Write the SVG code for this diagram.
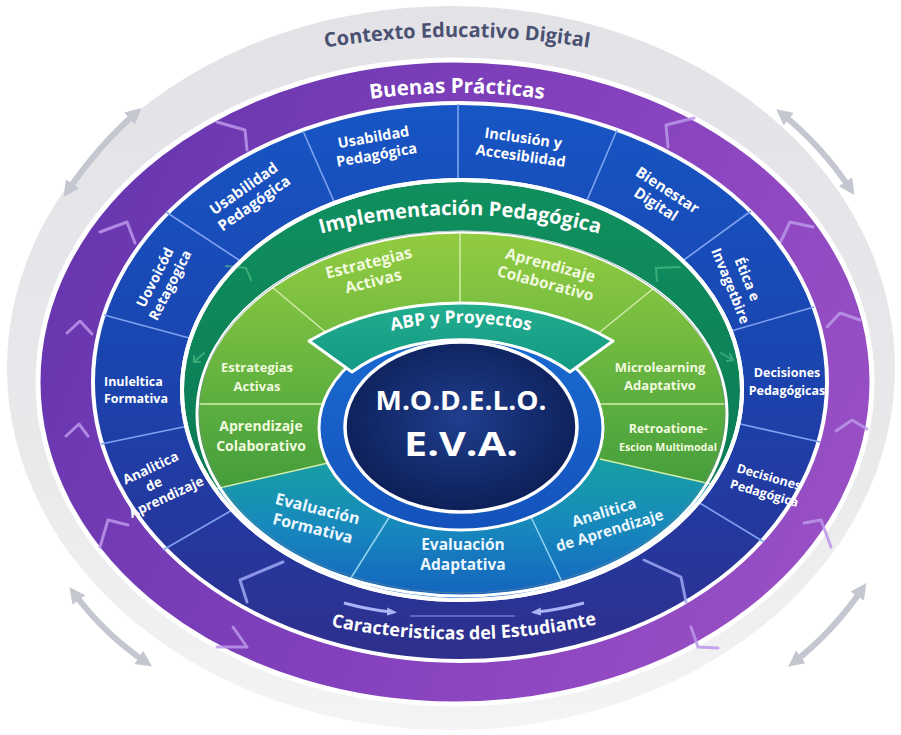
<svg xmlns="http://www.w3.org/2000/svg" width="901" height="735" viewBox="0 0 901 735">
  <defs>
    <style>
      .lbl { font-family: "Open Sans", "Noto Sans", "DejaVu Sans", sans-serif; font-weight: 700; text-anchor: middle; }
      .w { fill: #ffffff; }
      .gt { fill: #f1fadf; }
      .st { fill: #ecf7ff; }
      .div-blue { stroke: #7fa2f0; stroke-width: 1.6; fill: none; }
      .div-green { stroke: #d2ecab; stroke-width: 1.5; fill: none; }
      .div-sea { stroke: #93d3f0; stroke-width: 1.5; fill: none; }
      .chev { fill: none; stroke: #bb96ea; stroke-width: 3; stroke-linecap: round; stroke-linejoin: round; opacity: 0.85; }
      .chev-b { fill: none; stroke: #9ea6f2; stroke-width: 3; stroke-linecap: round; stroke-linejoin: round; opacity: 0.85; }
      .faint { fill: none; stroke: #58c48e; stroke-width: 2; stroke-linecap: round; opacity: 0.6; }
      .garrow { fill: none; stroke: #c4c7cf; stroke-width: 6; marker-start: url(#mGray); marker-end: url(#mGray); }
    </style>
    <linearGradient id="gGray" x1="0" y1="0" x2="0" y2="1">
      <stop offset="0" stop-color="#e3e3e7"/>
      <stop offset="0.6" stop-color="#e9e9ec"/>
      <stop offset="1" stop-color="#f4f4f6"/>
    </linearGradient>
    <linearGradient id="gPurple" gradientUnits="userSpaceOnUse" x1="40" y1="250" x2="870" y2="620">
      <stop offset="0" stop-color="#6636ae"/>
      <stop offset="0.5" stop-color="#8541bd"/>
      <stop offset="1" stop-color="#9c52c6"/>
    </linearGradient>
    <linearGradient id="gBlue" gradientUnits="userSpaceOnUse" x1="0" y1="103" x2="0" y2="662">
      <stop offset="0" stop-color="#1656c4"/>
      <stop offset="0.45" stop-color="#1a45b0"/>
      <stop offset="0.75" stop-color="#24389f"/>
      <stop offset="1" stop-color="#2f2f8c"/>
    </linearGradient>
    <linearGradient id="gDark" gradientUnits="userSpaceOnUse" x1="0" y1="180" x2="0" y2="480">
      <stop offset="0" stop-color="#10905e"/>
      <stop offset="1" stop-color="#0b7b55"/>
    </linearGradient>
    <linearGradient id="gLight" gradientUnits="userSpaceOnUse" x1="0" y1="232" x2="0" y2="490">
      <stop offset="0" stop-color="#93cc40"/>
      <stop offset="0.3" stop-color="#7bbf40"/>
      <stop offset="0.7" stop-color="#5aad3f"/>
      <stop offset="1" stop-color="#449c3a"/>
    </linearGradient>
    <linearGradient id="gSea" gradientUnits="userSpaceOnUse" x1="0" y1="455" x2="0" y2="600">
      <stop offset="0" stop-color="#17a1a0"/>
      <stop offset="0.5" stop-color="#1788bd"/>
      <stop offset="1" stop-color="#1462bf"/>
    </linearGradient>
    <linearGradient id="gBand" gradientUnits="userSpaceOnUse" x1="0" y1="303" x2="0" y2="372">
      <stop offset="0" stop-color="#22ad8e"/>
      <stop offset="1" stop-color="#139984"/>
    </linearGradient>
    <linearGradient id="gCoreRing" gradientUnits="userSpaceOnUse" x1="0" y1="326" x2="0" y2="530">
      <stop offset="0" stop-color="#1a6cd2"/>
      <stop offset="1" stop-color="#1452bc"/>
    </linearGradient>
    <radialGradient id="gNavy" cx="0.5" cy="0.45" r="0.6">
      <stop offset="0" stop-color="#1f3e8e"/>
      <stop offset="1" stop-color="#0b1c52"/>
    </radialGradient>
    <clipPath id="cpInner">
      <ellipse cx="462" cy="390" rx="280" ry="210"/>
    </clipPath>
    <marker id="mGray" markerUnits="userSpaceOnUse" markerWidth="16" markerHeight="16" refX="10" refY="8" orient="auto-start-reverse">
      <path d="M0,0 L16,8 L0,16 Z" fill="#c4c7cf"/>
    </marker>
    <marker id="mLav" markerUnits="userSpaceOnUse" markerWidth="10" markerHeight="10" refX="5" refY="5" orient="auto">
      <path d="M0,1 L10,5 L0,9 Z" fill="#aab4f6"/>
    </marker>
    <path id="pContext" d="M300,52 Q457,22 614,52"/>
    <path id="pBuenas" d="M352,102 Q457,84 562,102"/>
    <path id="pImpl" d="M316,235 Q460,195 604,235"/>
    <path id="pCarac" d="M330,626 Q463,654 598,624"/>
    <path id="pAbp" d="M378,334 Q461,312 544,334"/>
  </defs>

  <rect width="901" height="735" fill="#ffffff"/>

  <!-- outer context band -->
  <g id="contexto-educativo-digital">
    <ellipse cx="451" cy="368" rx="444" ry="362" fill="url(#gGray)"/>
    <text class="lbl" font-size="20" fill="#4b5171">
      <textPath href="#pContext" startOffset="50%">Contexto Educativo Digital</textPath>
    </text>
  </g>

  <!-- good practices ring -->
  <g id="buenas-practicas">
    <ellipse cx="455" cy="382" rx="417" ry="322" fill="url(#gPurple)" stroke="#ffffff" stroke-width="5"/>
    <text class="lbl w" font-size="20.5">
      <textPath href="#pBuenas" startOffset="50%">Buenas Prácticas</textPath>
    </text>
    <polyline class="chev" points="217,122 245,130 247,150"/>
    <polyline class="chev" points="100,232 127,222 135,243"/>
    <polyline class="chev" points="67,333 80,321 92,334"/>
    <polyline class="chev" points="66,436 79,424 88,436"/>
    <polyline class="chev" points="100,547 108,520 128,525"/>
    <polyline class="chev" points="233,627 247,647 217,647"/>
    <polyline class="chev" points="691,627 698,647 718,648"/>
    <polyline class="chev" points="804,523 821,520 831,547"/>
    <polyline class="chev" points="836,431 852,420 867,429"/>
    <polyline class="chev" points="827,327 840,313 860,320"/>
    <polyline class="chev" points="780,243 790,222 813,227"/>
    <polyline class="chev" points="668,147 666,125 694,118"/>
  </g>

  <!-- practice ring with its segments -->
  <g id="practice-ring">
    <ellipse cx="460" cy="382" rx="367" ry="279" fill="url(#gBlue)" stroke="#ffffff" stroke-width="4"/>
    <line class="div-blue" x1="458" y1="104" x2="458" y2="185"/>
    <line class="div-blue" x1="303" y1="131" x2="336" y2="206"/>
    <line class="div-blue" x1="617" y1="130" x2="585" y2="205"/>
    <line class="div-blue" x1="166" y1="212" x2="242" y2="262"/>
    <line class="div-blue" x1="751" y1="211" x2="681" y2="262"/>
    <line class="div-blue" x1="104" y1="315" x2="193" y2="339"/>
    <line class="div-blue" x1="814" y1="307" x2="731" y2="331"/>
    <line class="div-blue" x1="101" y1="444" x2="188" y2="426"/>
    <line class="div-blue" x1="820" y1="442" x2="736" y2="423"/>
    <line class="div-blue" x1="163" y1="550" x2="234" y2="509"/>
    <line class="div-blue" x1="764" y1="542" x2="698" y2="502"/>
    <polyline class="chev-b" points="283,562 240,580 247,602"/>
    <polyline class="chev-b" points="644,560 681,577 686,602"/>
    <path d="M344,603 Q370,610 392,612" fill="none" stroke="#aab4f6" stroke-width="3" marker-end="url(#mLav)"/>
    <path d="M584,603 Q558,610 536,612" fill="none" stroke="#aab4f6" stroke-width="3" marker-end="url(#mLav)"/>
    <line x1="410" y1="616" x2="515" y2="616" stroke="#8088da" stroke-width="2" opacity="0.6"/>
  </g>

  <g id="seg-usabilidad-pedagogica-top" transform="translate(375,146) rotate(-10)">
    <text class="lbl w" font-size="14.5"><tspan x="0" y="-4">Usabildad</tspan><tspan x="0" y="14">Pedagógica</tspan></text>
  </g>
  <g id="seg-inclusion" transform="translate(522,147) rotate(8)">
    <text class="lbl w" font-size="14.5"><tspan x="0" y="-4">Inclusión y</tspan><tspan x="0" y="14">Accesiblidad</tspan></text>
  </g>
  <g id="seg-bienestar" transform="translate(663,197) rotate(33)">
    <text class="lbl w" font-size="15"><tspan x="0" y="-3">Bienestar</tspan><tspan x="-2" y="15">Digital</tspan></text>
  </g>
  <g id="seg-etica" transform="translate(740,282) rotate(68)">
    <text class="lbl w" font-size="14"><tspan x="0" y="-3">Ética e</tspan><tspan x="0" y="15">Invagetbire</tspan></text>
  </g>
  <g id="seg-decisiones-1">
    <text class="lbl w" font-size="12.5"><tspan x="787" y="377">Decisiones</tspan><tspan x="787" y="395">Pedagógicas</tspan></text>
  </g>
  <g id="seg-decisiones-2" transform="translate(767,484) rotate(16)">
    <text class="lbl w" font-size="12.5"><tspan x="0" y="-3">Decisiones</tspan><tspan x="0" y="14">Pedagógica</tspan></text>
  </g>
  <g id="seg-caracteristicas">
    <text class="lbl w" font-size="18">
      <textPath href="#pCarac" startOffset="50%">Caracteristicas del Estudiante</textPath>
    </text>
  </g>
  <g id="seg-analitica" transform="translate(158,484) rotate(-25)">
    <text class="lbl w" font-size="13.5"><tspan x="0" y="-13">Analitica</tspan><tspan x="-4" y="3">de</tspan><tspan x="2" y="20">Aprendizaje</tspan></text>
  </g>
  <g id="seg-formativa">
    <text class="lbl w" font-size="12.5" style="text-anchor:start"><tspan x="104" y="386">Inuleltica</tspan><tspan x="104" y="403">Formativa</tspan></text>
  </g>
  <g id="seg-retagogica" transform="translate(162,281) rotate(-63)">
    <text class="lbl w" font-size="14"><tspan x="0" y="-3">Uovoicód</tspan><tspan x="0" y="14">Retagogica</tspan></text>
  </g>
  <g id="seg-usabilidad-pedagogica-left" transform="translate(249,196) rotate(-35)">
    <text class="lbl w" font-size="15"><tspan x="0" y="-4">Usabilidad</tspan><tspan x="0" y="14">Pedagógica</tspan></text>
  </g>

  <!-- implementation ring and inner sectors -->
  <g id="implementacion-pedagogica">
    <ellipse cx="462" cy="390" rx="280" ry="210" fill="url(#gDark)" stroke="#ffffff" stroke-width="4"/>
    <ellipse cx="462" cy="414" rx="265" ry="182" fill="url(#gLight)"/>
    <polyline class="faint" points="226,266 246,268 251,280"/>
    <polyline class="faint" points="657,281 656,268 680,267"/>
    <path class="faint" d="M204,353 L194,362 M194,356 L194,362 L200,362"/>
    <path class="faint" d="M721,353 L733,360 M727,361 L733,360 L730,354"/>
    <line class="div-green" x1="460" y1="232" x2="460" y2="310"/>
    <line class="div-green" x1="272" y1="287" x2="335" y2="340"/>
    <line class="div-green" x1="654" y1="288" x2="595" y2="336"/>
    <line class="div-green" x1="198" y1="404" x2="325" y2="404"/>
    <line class="div-green" x1="600" y1="404" x2="726" y2="404"/>
    <polygon points="150,504 345,459 580,455 760,495 760,620 150,620" fill="url(#gSea)" clip-path="url(#cpInner)"/>
    <line class="div-green" x1="215" y1="489" x2="328" y2="463"/>
    <line class="div-green" x1="600" y1="459" x2="711" y2="484"/>
    <line class="div-sea" x1="390" y1="516" x2="349" y2="581"/>
    <line class="div-sea" x1="531" y1="517" x2="563" y2="584"/>
    <ellipse cx="462" cy="414" rx="265" ry="182" fill="none" stroke="#ffffff" stroke-width="3"/>
    <ellipse cx="462" cy="412" rx="263" ry="181" fill="none" stroke="#6f8790" stroke-width="0.8" opacity="0.7"/>
    <ellipse cx="462" cy="390" rx="280" ry="210" fill="none" stroke="#ffffff" stroke-width="4"/>
    <text class="lbl w" font-size="20">
      <textPath href="#pImpl" startOffset="50%">Implementación Pedagógica</textPath>
    </text>
  </g>

  <g id="sector-estrategias-top" transform="translate(371,272) rotate(-14)">
    <text class="lbl gt" font-size="16"><tspan x="0" y="-4">Estrategias</tspan><tspan x="0" y="15">Activas</tspan></text>
  </g>
  <g id="sector-aprendizaje-top" transform="translate(548,274) rotate(15)">
    <text class="lbl gt" font-size="15.5"><tspan x="0" y="-4">Aprendizaje</tspan><tspan x="0" y="15">Colaborativo</tspan></text>
  </g>
  <g id="sector-estrategias-left">
    <text class="lbl gt" font-size="13"><tspan x="257" y="372">Estrategias</tspan><tspan x="257" y="391">Activas</tspan></text>
  </g>
  <g id="sector-aprendizaje-left">
    <text class="lbl gt" font-size="14"><tspan x="261" y="431">Aprendizaje</tspan><tspan x="261" y="451">Colaborativo</tspan></text>
  </g>
  <g id="sector-microlearning">
    <text class="lbl gt" font-size="13"><tspan x="660" y="372">Microlearning</tspan><tspan x="660" y="390">Adaptativo</tspan></text>
  </g>
  <g id="sector-retroalimentacion">
    <text class="lbl gt" font-size="12.5" x="668" y="433">Retroatione-</text>
    <text class="lbl gt" font-size="11" x="668" y="451" textLength="98" lengthAdjust="spacingAndGlyphs">Escion Multimodal</text>
  </g>
  <g id="sector-evaluacion-formativa" transform="translate(315,519) rotate(14)">
    <text class="lbl st" font-size="16"><tspan x="0" y="-5">Evaluación</tspan><tspan x="0" y="15">Formativa</tspan></text>
  </g>
  <g id="sector-evaluacion-adaptativa">
    <text class="lbl st" font-size="15.5"><tspan x="463" y="550">Evaluación</tspan><tspan x="463" y="570">Adaptativa</tspan></text>
  </g>
  <g id="sector-analitica" transform="translate(607,522) rotate(-17)">
    <text class="lbl st" font-size="15"><tspan x="0" y="-5">Analitica</tspan><tspan x="0" y="14">de Aprendizaje</tspan></text>
  </g>

  <!-- core: ABP band and model title -->
  <g id="modelo-eva-ring">
    <ellipse cx="461" cy="428" rx="142" ry="102" fill="url(#gCoreRing)" stroke="#ffffff" stroke-width="3"/>
  </g>
  <g id="abp-proyectos">
    <path d="M309,341 A220,137 0 0 1 613,341 L570,372 A142,90 0 0 0 352,372 Z" fill="url(#gBand)" stroke="#ffffff" stroke-width="3" stroke-linejoin="round"/>
    <text class="lbl w" font-size="17.5">
      <textPath href="#pAbp" startOffset="50%">ABP y Proyectos</textPath>
    </text>
  </g>
  <g id="modelo-eva">
    <ellipse cx="461" cy="427" rx="116" ry="85" fill="url(#gNavy)" stroke="#ffffff" stroke-width="3.5"/>
    <text class="lbl w" font-size="26" x="461" y="410" textLength="171" lengthAdjust="spacingAndGlyphs">M.O.D.E.L.O.</text>
    <text class="lbl w" font-size="34" x="461" y="456" textLength="114" lengthAdjust="spacingAndGlyphs">E.V.A.</text>
  </g>

  <!-- cycle arrows around the context band -->
  <g id="connectors">
    <path class="garrow" d="M137,112 Q98,146 67,192"/>
    <path class="garrow" d="M781,113 Q822,146 851,190"/>
    <path class="garrow" d="M73,592 Q104,634 147,663"/>
    <path class="garrow" d="M863,588 Q833,632 793,663"/>
  </g>
</svg>
